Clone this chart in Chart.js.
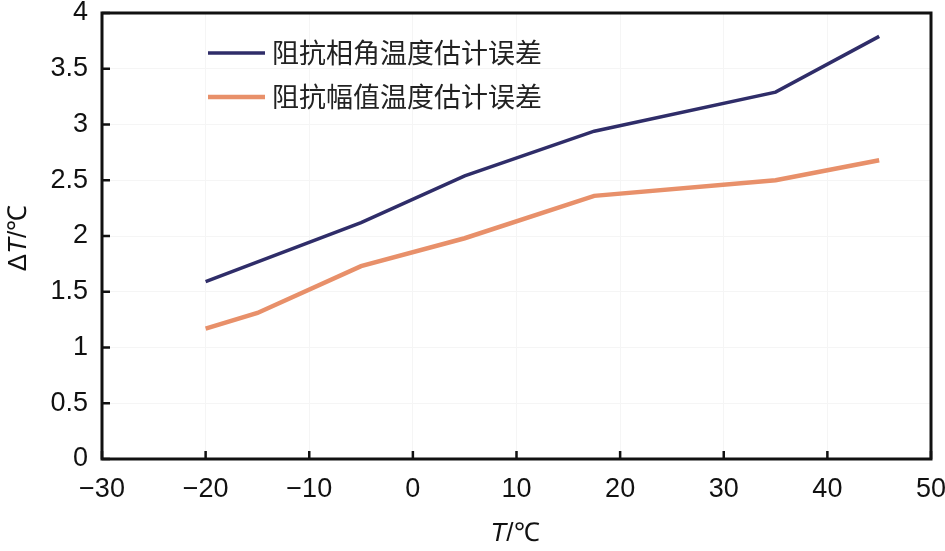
<!DOCTYPE html>
<html><head><meta charset="utf-8">
<script src="https://cdn.jsdelivr.net/npm/chart.js@4/dist/chart.umd.min.js"></script>
<style>html,body{margin:0;padding:0;background:#fff;}#wrap{width:945px;height:551px;}</style>
</head><body><div id="wrap"><canvas id="c" width="945" height="551"></canvas></div>
<script>
const seriesNames = ['阻抗相角温度估计误差', '阻抗幅值温度估计误差'];
const phaseX = [-20, -5, 5, 17.5, 35, 45];
const phaseY = [1.59, 2.12, 2.54, 2.94, 3.29, 3.79];
const ampX = [-20, -15, -5, 5, 17.5, 35, 45];
const ampY = [1.17, 1.31, 1.73, 1.98, 2.36, 2.50, 2.68];
const xTicks = [-30, -20, -10, 0, 10, 20, 30, 40, 50];
const yTicks = [0, 0.5, 1, 1.5, 2, 2.5, 3, 3.5, 4];
const colors = ['#2f2d69', '#e8906a'];

const fmtX = v => (v < 0 ? '\u2212' + Math.abs(v) : String(v));

const deco = {
  id: 'deco',
  afterDraw(chart) {
    const ctx = chart.ctx, a = chart.chartArea, xs = chart.scales.x, ys = chart.scales.y;
    ctx.save();
    // frame
    ctx.strokeStyle = '#111'; ctx.lineWidth = 3;
    ctx.strokeRect(a.left, a.top, a.right - a.left, a.bottom - a.top);
    // inward ticks
    ctx.lineWidth = 2.5;
    ctx.beginPath();
    xTicks.forEach(v => { const p = xs.getPixelForValue(v); ctx.moveTo(p, a.bottom); ctx.lineTo(p, a.bottom - 8); });
    yTicks.forEach(v => { const p = ys.getPixelForValue(v); ctx.moveTo(a.left, p); ctx.lineTo(a.left + 8, p); });
    ctx.stroke();
    // legend
    chart.data.datasets.forEach((ds, i) => {
      const y = 53 + i * 44;
      ctx.strokeStyle = ds.borderColor; ctx.lineWidth = ds.borderWidth;
      ctx.beginPath(); ctx.moveTo(208, y); ctx.lineTo(265, y); ctx.stroke();
      ctx.fillStyle = '#222'; ctx.font = '27px "Noto Sans CJK SC"';
      ctx.textBaseline = 'middle'; ctx.textAlign = 'left';
      ctx.fillText(ds.label, 272, y);
    });
    // axis titles
    ctx.fillStyle = '#111'; ctx.textBaseline = 'middle';
    const drawParts = (parts, x, y) => {
      let w = 0;
      parts.forEach(p => { ctx.font = p[1]; w += ctx.measureText(p[0]).width; });
      let cx = x - w / 2;
      parts.forEach(p => { ctx.font = p[1]; ctx.textAlign = 'left'; ctx.fillText(p[0], cx, y); cx += ctx.measureText(p[0]).width; });
    };
    drawParts([['T', 'italic 26px "Liberation Sans"'], ['/℃', '26px "Liberation Sans"']], 515, 534);
    ctx.save(); ctx.translate(19, 238); ctx.rotate(-Math.PI / 2);
    drawParts([['Δ', '26px "Liberation Sans"'], ['T', 'italic 26px "Liberation Sans"'], ['/℃', '26px "Liberation Sans"']], 0, 0);
    ctx.restore();
    ctx.restore();
  }
};

new Chart(document.getElementById('c'), {
  type: 'line',
  data: {
    datasets: [
      { label: seriesNames[0], data: phaseX.map((x, i) => ({ x, y: phaseY[i] })), borderColor: colors[0], borderWidth: 3.5, pointRadius: 0, tension: 0 },
      { label: seriesNames[1], data: ampX.map((x, i) => ({ x, y: ampY[i] })), borderColor: colors[1], borderWidth: 4.5, pointRadius: 0, tension: 0 }
    ]
  },
  options: {
    responsive: false, animation: false, devicePixelRatio: 1,
    layout: { padding: { top: 13, right: 14, left: 0, bottom: 0 } },
    plugins: { legend: { display: false }, tooltip: { enabled: false } },
    scales: {
      x: {
        type: 'linear', min: -30, max: 50,
        afterBuildTicks: s => { s.ticks = xTicks.map(v => ({ value: v })); },
        afterFit: s => { s.height = 92; s.paddingLeft = 0; s.paddingRight = 0; },
        grid: { color: '#f5f5f5', drawTicks: false, lineWidth: 1 },
        border: { display: false },
        ticks: { padding: 14, color: '#111', font: { family: 'Liberation Sans', size: 27 }, callback: v => fmtX(v), maxRotation: 0 }
      },
      y: {
        type: 'linear', min: 0, max: 4,
        afterBuildTicks: s => { s.ticks = yTicks.map(v => ({ value: v })); },
        afterFit: s => { s.width = 102; s.paddingTop = 0; s.paddingBottom = 0; },
        grid: { color: '#f5f5f5', drawTicks: false, lineWidth: 1 },
        border: { display: false },
        ticks: { padding: 14, color: '#111', font: { family: 'Liberation Sans', size: 27 }, callback: v => String(v) }
      }
    }
  },
  plugins: [deco]
});
</script>
</body></html>
